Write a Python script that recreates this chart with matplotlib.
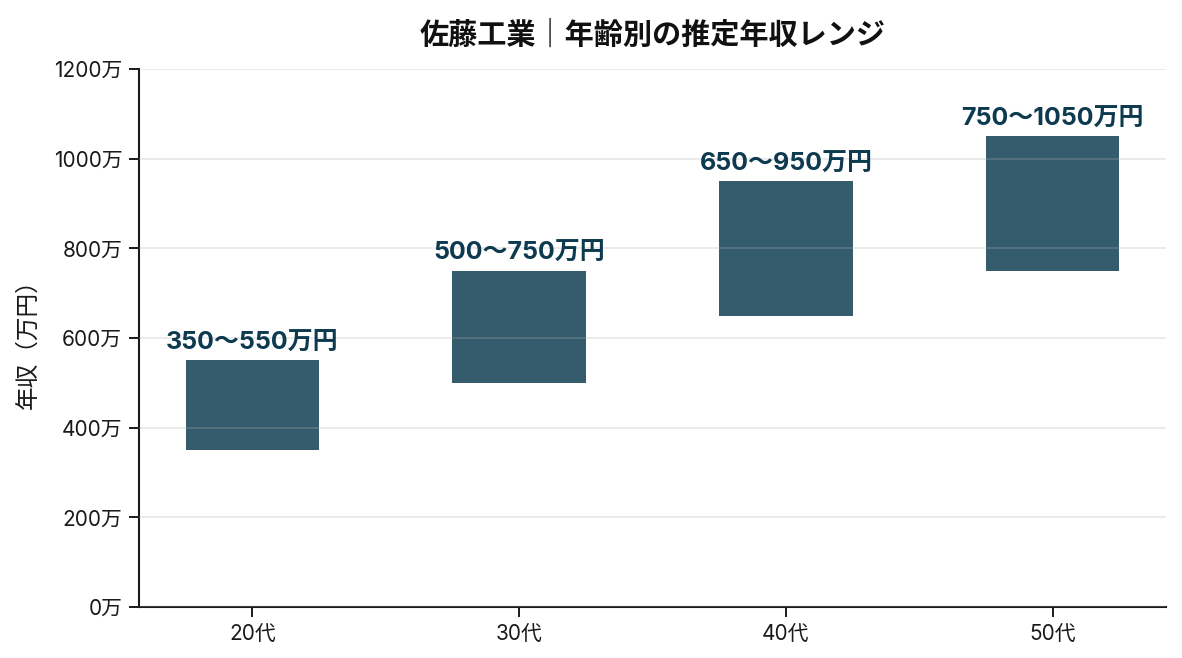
import matplotlib
matplotlib.use("Agg")
import matplotlib.pyplot as plt

plt.rcParams['font.family'] = ['Inter', 'Noto Sans CJK JP', 'DejaVu Sans']

categories = ["20代", "30代", "40代", "50代"]
low_values = [350, 500, 650, 750]
high_values = [550, 750, 950, 1050]
yticks = [0, 200, 400, 600, 800, 1000, 1200]
ytick_labels = [f"{v}万" for v in yticks]

fig = plt.figure(figsize=(11.82, 6.58), dpi=100)
ax = fig.add_axes([0.1176, 0.0775, 0.869, 0.8175])

x = list(range(len(categories)))
heights = [h - l for l, h in zip(low_values, high_values)]
ax.bar(x, heights, bottom=low_values, width=0.5, color='#0c3b50', alpha=0.83, zorder=1)

for xi, lo, hi in zip(x, low_values, high_values):
    ax.annotate(f"{lo}〜{hi}万円", xy=(xi, hi), xytext=(0, 4), textcoords='offset points',
                ha='center', va='bottom', fontsize=18, fontweight='bold', color='#0d3a4f')

ax.set_xticks(x)
ax.set_xticklabels(categories, fontsize=15)
ax.set_yticks(yticks)
ax.set_yticklabels(ytick_labels, fontsize=15)
ax.set_ylim(0, 1200)
ax.set_ylabel("年収（万円）", fontsize=17, labelpad=10, color='#1a1a1a')

ax.set_axisbelow(False)
ax.yaxis.grid(True, color='#b0b0b0', alpha=0.3, linewidth=1.2, zorder=2)
ax.xaxis.grid(False)

for s in ['top', 'right']:
    ax.spines[s].set_visible(False)
for s in ['left', 'bottom']:
    ax.spines[s].set_color('#1a1a1a')
    ax.spines[s].set_linewidth(1.5)
ax.tick_params(colors='#1a1a1a', length=7, width=1.4, pad=5)

ax.set_title("佐藤工業｜年齢別の推定年収レンジ", fontsize=21, fontweight='bold', pad=18, color='#111111')

fig.savefig("out.png", dpi=100)
